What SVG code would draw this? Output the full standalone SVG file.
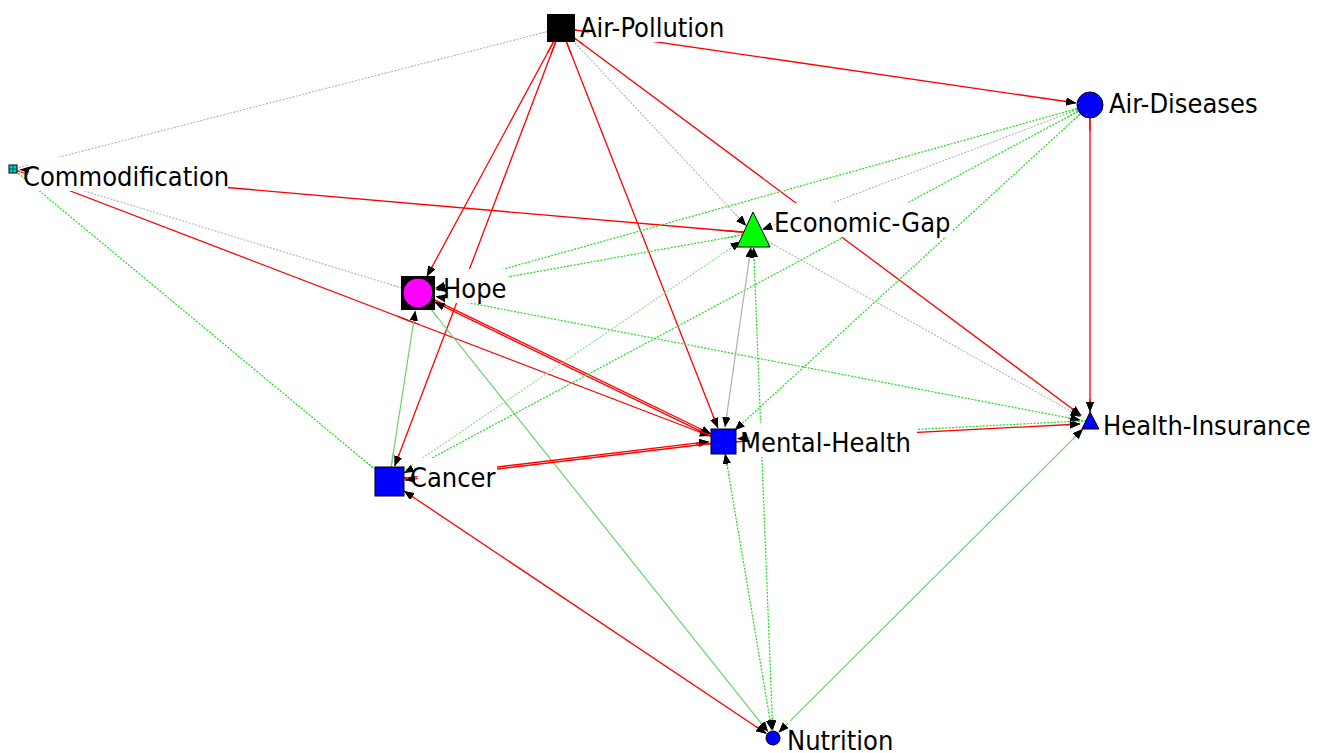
<svg xmlns="http://www.w3.org/2000/svg" xmlns:xlink="http://www.w3.org/1999/xlink" width="1321" height="753" viewBox="0 0 1321 753">
<style>
line{fill:none}
.r{stroke:#ff0000;stroke-width:1.3}
.gd{stroke:#1fdc1f;stroke-width:1.2;stroke-dasharray:2 1.4}
.pg{stroke:#8ee08e;stroke-width:1.2;stroke-dasharray:2 1.4}
.gy{stroke:#b4b4b4;stroke-width:1.1;stroke-dasharray:2 1.4}
.gs{stroke:#6fd06f;stroke-width:1.2}
.gr{stroke:#b0b0b0;stroke-width:1.2}
.e{marker-end:url(#ah)}
.b{marker-start:url(#ah);marker-end:url(#ah)}
text{font-family:"DejaVu Sans Condensed","DejaVu Sans",sans-serif;font-stretch:condensed;font-size:27px;fill:#000}
.nd{stroke:#000;stroke-width:1}
</style>
<defs>
<marker id="ah" markerUnits="userSpaceOnUse" markerWidth="12" markerHeight="10" refX="10" refY="4" orient="auto-start-reverse" viewBox="0 0 12 10">
<path d="M0,0 L10,4 L0,8 z" fill="#000"/>
</marker>
<mask id="lm" maskUnits="userSpaceOnUse" x="0" y="0" width="1321" height="753">
<rect x="0" y="0" width="1321" height="753" fill="#fff"/>
<rect x="577" y="8" width="152" height="34" fill="#000"/>
<rect x="20" y="157" width="208" height="34" fill="#000"/>
<rect x="440" y="269" width="68" height="34" fill="#000"/>
<rect x="771" y="203" width="182" height="34" fill="#000"/>
<rect x="737" y="423" width="180" height="34" fill="#000"/>
<rect x="407" y="458" width="90" height="34" fill="#000"/>
<rect x="1100" y="406" width="218" height="34" fill="#000"/>
<rect x="1106" y="84" width="158" height="34" fill="#000"/>
<rect x="784" y="721" width="114" height="34" fill="#000"/>
</mask>
<clipPath id="nz">
<circle cx="561" cy="28" r="28"/>
<circle cx="13" cy="169" r="16"/>
<circle cx="418" cy="293" r="31"/>
<circle cx="753" cy="233" r="28"/>
<circle cx="723" cy="441" r="27"/>
<circle cx="389" cy="481" r="29"/>
<circle cx="1090" cy="422" r="23"/>
<circle cx="773" cy="738" r="21"/>
<circle cx="1090" cy="105" r="26"/>
</clipPath>
</defs>
<rect x="0" y="0" width="1321" height="753" fill="#fff"/>
<g mask="url(#lm)">
<g id="connectors">
<line class="r e" x1="561" y1="28" x2="1076.1" y2="103"/>
<line class="r e" x1="561" y1="28" x2="427" y2="276.3"/>
<line class="r e" x1="561" y1="28" x2="394.7" y2="466"/>
<line class="r e" x1="561" y1="28" x2="717.9" y2="428"/>
<line class="r e" x1="561" y1="28" x2="1081.2" y2="415.4"/>
<line class="gy e" x1="561" y1="28" x2="746.2" y2="225.7"/>
<line class="gy" x1="561" y1="28" x2="13" y2="169"/>
<line class="r e" x1="753" y1="233" x2="20" y2="169.6"/>
<line class="r e" x1="13" y1="169" x2="709.9" y2="436"/>
<line class="gy" x1="13" y1="169" x2="418" y2="293"/>
<line class="gd" x1="13" y1="169" x2="389" y2="481"/>
<line class="r e" x1="418.4" y1="292.1" x2="711" y2="434"/>
<line class="r e" x1="722.6" y1="441.9" x2="434.8" y2="302.2"/>
<line class="gs e" x1="389" y1="481" x2="415.3" y2="310.8"/>
<line class="gs e" x1="418" y1="293" x2="768" y2="731.7"/>
<line class="gd e" x1="753" y1="233" x2="435.7" y2="289.8"/>
<line class="gd e" x1="1090" y1="105" x2="435.3" y2="288.2"/>
<line class="gd b" x1="1080.2" y1="420.1" x2="435.7" y2="296.4"/>
<line class="r e" x1="388.9" y1="480" x2="709" y2="441.7"/>
<line class="r e" x1="723.1" y1="442" x2="405" y2="480.1"/>
<line class="pg e" x1="389" y1="481" x2="740.6" y2="241.4"/>
<line class="gd e" x1="1090" y1="105" x2="404" y2="473"/>
<line class="gy e" x1="1090" y1="105" x2="762.4" y2="229.5"/>
<line class="gd e" x1="1090" y1="105" x2="734.8" y2="430.2"/>
<line class="r e" x1="1090" y1="118" x2="1090" y2="412"/>
<line class="gr b" x1="725" y1="427.1" x2="750.9" y2="247.4"/>
<line class="gd b" x1="772.7" y1="730" x2="753.6" y2="247.5"/>
<line class="gd b" x1="725.2" y1="453.8" x2="771.7" y2="730.1"/>
<line class="r e" x1="723.1" y1="442.5" x2="1080.1" y2="424"/>
<line class="gd e" x1="1089.9" y1="420.5" x2="736.9" y2="438.8"/>
<line class="gy e" x1="753" y1="233" x2="1080.4" y2="416.6"/>
<line class="gs b" x1="778.7" y1="732.4" x2="1082.9" y2="429.1"/>
<line class="r b" x1="404" y1="491" x2="766.4" y2="733.6"/>
</g>
</g>
<use xlink:href="#connectors" href="#connectors" clip-path="url(#nz)"/>
<g id="labels">
<text x="580" y="37">Air-Pollution</text>
<text x="23" y="186">Commodification</text>
<text x="443" y="298">Hope</text>
<text x="774" y="232">Economic-Gap</text>
<text x="740" y="452">Mental-Health</text>
<text x="410" y="487">Cancer</text>
<text x="1103" y="435">Health-Insurance</text>
<text x="1109" y="113">Air-Diseases</text>
<text x="787" y="750">Nutrition</text>
</g>
<g id="node-air-pollution"><rect x="547" y="14" width="28" height="28" fill="#000"/></g>
<g id="node-commodification"><rect class="nd" x="9" y="165" width="8" height="8" fill="#00d0d0" stroke-width="0.8"/><line x1="13" y1="165" x2="13" y2="173" stroke="#000" stroke-width="0.6"/><line x1="9" y1="169" x2="17" y2="169" stroke="#000" stroke-width="0.6"/></g>
<g id="node-hope"><rect x="401" y="276" width="34" height="34" fill="#000"/><circle class="nd" cx="418" cy="293" r="15" fill="#ff00ff"/></g>
<g id="node-economic-gap"><polygon class="nd" points="753,212 737,247 770,247" fill="#00ff00"/></g>
<g id="node-mental-health"><rect class="nd" x="711" y="429" width="25" height="25" fill="#0000ff"/><line x1="723.5" y1="429" x2="723.5" y2="454" stroke="#000"/><line x1="711" y1="441.5" x2="736" y2="441.5" stroke="#000"/></g>
<g id="node-cancer"><rect class="nd" x="375" y="467" width="29" height="29" fill="#0000ff"/></g>
<g id="node-health-insurance"><polygon class="nd" points="1090,412 1082,429 1099,429" fill="#0000ff"/></g>
<g id="node-nutrition"><circle class="nd" cx="773" cy="738" r="7" fill="#0000ff"/></g>
<g id="node-air-diseases"><circle class="nd" cx="1090" cy="105" r="13" fill="#0000ff"/></g>
</svg>
